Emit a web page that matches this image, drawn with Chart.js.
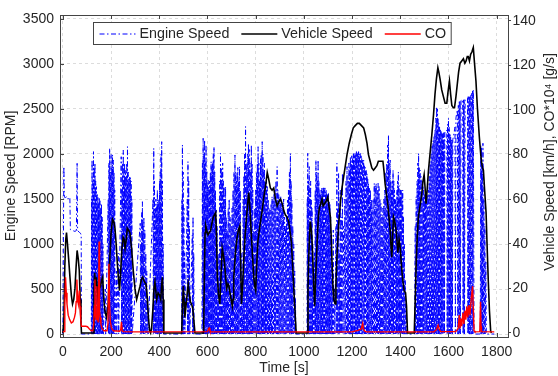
<!DOCTYPE html>
<html>
<head>
<meta charset="utf-8">
<script src="https://cdn.jsdelivr.net/npm/chart.js"></script>
<style>
  html, body { margin: 0; padding: 0; background: #fff; }
  #wrap { width: 558px; height: 376px; }
</style>
</head>
<body>
<div id="wrap"><canvas id="emission_chart"></canvas></div>
<script>
// tick values of the three axes
var timeTicks = [0, 200, 400, 600, 800, 1000, 1200, 1400, 1600, 1800];
var rpmTicks = [0, 500, 1000, 1500, 2000, 2500, 3000, 3500];
var speedTicks = [0, 20, 40, 60, 80, 100, 120, 140];

// [time s, rpm]
var engineSpeed = [
  [0,0],[2,1000],[4,1859],[6,1520],[12,1517],[18,1530],[22,1500],[26,1517],[29,1510],[31,1160],[40,1150],[50,1140],[56,1150],[59,1896],[61,1150],[68,1130],[73,1120],[76,1100],[77,0],[118,0],
  [119,1500],[120.5,0],[121,1933],[122.5,0],[124,1700],[125.5,0],[127,2026],[128.5,0],[130,1850],[131.5,0],[133,1900],[134.5,0],[136,1700],[137.5,0],[139,1637],[140.5,0],[142,1550],[143.5,0],[145,1517],[146.5,0],[148,1450],[149.5,0],[151,1517],[152.5,0],[154,1480],[155.5,0],[157,1400],[158.5,0],[160,1450],[161.5,0],[163,1300],[164.5,0],[166,1000],[167.5,0],
  [176,500],[177.5,0],
  [188,1500],[189.5,0],[191,1900],[192.5,0],[194,2063],[195.5,0],[197,1800],[198.5,0],[200,2000],[201.5,0],[203,1850],[204.5,0],[206,1990],[207.5,0],[209,1933],[210.5,0],[212,1800],[213.5,0],[215,1600],[216.5,0],
  [222,700],[223.5,0],[230,900],[231.5,0],
  [242,1970],[243.5,0],[245,1600],[246.5,0],[248,1900],[249.5,0],[250.5,2044],[252,0],[253,1700],[254.5,0],[256,1900],[257.5,0],[259,1820],[260.5,0],[262,1750],[263.5,0],[265,1900],[266.5,0],[268,2081],[269.5,0],[271,1800],[272.5,0],[274,1700],[275.5,0],[277,1750],[278.5,0],[280,1740],[281.5,0],[283,1700],[284.5,0],[286,1500],[287.5,0],
  [321,1230],[322.5,0],[324,1000],[325.5,0],[327,1350],[328.5,0],[330,1470],[331.5,0],[333,1200],[334.5,0],[336,1300],[337.5,0],[340,1155],[341.5,0],[344,900],[345.5,0],[348,700],[349.5,0],[352,400],[353.5,0],
  [374,1500],[375.5,0],[377,2063],[378.5,0],[380,1700],[381.5,0],[383,1400],[384.5,0],[386,1500],[387.5,0],[389,1415],[390.5,0],[392,1600],[393.5,0],[395,1450],[396.5,0],[398,1500],[399.5,0],[401,1700],[402.5,0],[404,1800],[405.5,0],[407,2000],[408.5,0],[410,2137],[411.5,0],[413,1700],[414.5,0],[416,1000],[417.5,0],
  [493,0],[494,1500],[495,0],[496,2100],[497.5,0],[499,1800],[500.5,0],[502,1400],[503.5,0],[505,900],[506.5,0],
  [516,1500],[517.5,0],[519,1915],[520.5,0],[522,1700],[523.5,0],[525,1200],[526.5,0],
  [537,1100],[538.5,0],[540,1303],[541.5,0],[543,900],[544.5,0],
  [577,0],[579,1900],[580.5,0],[582,2174],[583.5,0],[585,2000],[586.5,0],[588,2156],[589.5,0],[591,1900],[592.5,0],[594,2100],[595.5,0],[597,1800],[598.5,0],[600,1650],[601.5,0],[603,1711],[604.5,0],[606,1600],[607.5,0],[609,1700],[610.5,0],[612,1800],[613.5,0],[615,1915],[616.5,0],[618,1850],[619.5,0],[621,1900],[622.5,0],[624,2000],[625.5,0],[627,2081],[628.5,0],[630,1800],[631.5,0],[633,1600],[634.5,0],[636,1378],[637.5,0],[640,1200],[641.5,0],[644,900],[645.5,0],[648,860],[649.5,0],
  [651,1700],[652.5,0],[654,2007],[655.5,0],[657,1850],[658.5,0],[660,1785],[661.5,0],[663,1900],[664.5,0],[666,1700],[667.5,0],[669,1637],[670.5,0],[672,1500],[673.5,0],[675,1637],[676.5,0],[678,1300],[679.5,0],[682,1155],[683.5,0],[686,1400],[687.5,0],[690,1500],[691.5,0],[694,1300],[695.5,0],[698,1200],[699.5,0],
  [702,1400],[703.5,0],[706,1600],[707.5,0],[710,1800],[711.5,0],[714,1989],[715.5,0],[717,1800],[718.5,0],[720,1700],[721.5,0],[723,1800],[724.5,0],[726,1850],[727.5,0],[729,1700],[730.5,0],[733,1859],[734.5,0],[736,1600],[737.5,0],[740,900],[741.5,0],[744,500],[745.5,0],[748,1500],[749.5,0],
  [751,1760],[752.5,0],[754,2000],[755.5,0],[758,2304],[759.5,0],[761,1900],[762.5,0],[764,1800],[765.5,0],[767,2000],[768.5,0],[770,2118],[771.5,0],[773,2050],[774.5,0],[776,1900],[777.5,0],[779,1800],[780.5,0],[782,2100],[783.5,0],[785,1900],[786.5,0],[788,1600],[789.5,0],[792,1155],[793.5,0],[796,1400],[797.5,0],
  [800,1600],[801.5,0],[804,1800],[805.5,0],[807,1900],[808.5,0],[810,2081],[811.5,0],[813,1900],[814.5,0],[816,1700],[817.5,0],[820,1950],[821.5,0],[823,2000],[824.5,0],[827,2137],[828.5,0],[830,2000],[831.5,0],[833,1800],[834.5,0],[836,1900],[837.5,0],[839,1700],[840.5,0],[842,1600],[843.5,0],[845,1700],[846.5,0],[848,1637],[849.5,0],
  [852,1500],[853.5,0],[856,1400],[857.5,0],[860,1378],[861.5,0],[864,1450],[865.5,0],[868,1526],[869.5,0],[872,1500],[873.5,0],[876,1550],[877.5,0],[880,1600],[881.5,0],[884,1700],[885.5,0],[889,1859],[890.5,0],[892,1600],[893.5,0],[896,1550],[897.5,0],
  [900,1500],[901.5,0],[904,1526],[905.5,0],[908,1450],[909.5,0],[912,1400],[913.5,0],[916,1500],[917.5,0],[920,1300],[921.5,0],[924,1200],[925.5,0],[928,1300],[929.5,0],[932,1489],[933.5,0],[936,1600],[937.5,0],[940,1800],[941.5,0],[944,2007],[945.5,0],[947,1700],[948.5,0],[950,1489],[951.5,0],[954,1200],[955.5,0],[958,1000],[959.5,0],[962,700],[963.5,0],[965,400],[966.5,0],
  [1013,0],[1014,1500],[1015,0],[1016,2007],[1017.5,0],[1019,1700],[1020.5,0],[1022,1860],[1023.5,0],[1025,1600],[1026.5,0],[1028,1700],[1029.5,0],[1031,1489],[1032.5,0],[1034,1400],[1035.5,0],[1037,1000],[1038.5,0],[1040,700],[1041.5,0],[1044,900],[1045.5,0],[1047,1600],[1048.5,0],
  [1050,1933],[1051.5,0],[1053,1800],[1054.5,0],[1056,1700],[1057.5,0],[1059,1933],[1060.5,0],[1062,1700],[1063.5,0],[1066,1600],[1067.5,0],[1069,1550],[1070.5,0],[1072,1600],[1073.5,0],[1075,1620],[1076.5,0],[1078,1600],[1079.5,0],[1081,1637],[1082.5,0],[1084,1600],[1085.5,0],[1087,1637],[1088.5,0],[1090,1580],[1091.5,0],[1093,1600],[1094.5,0],[1096,1550],[1097.5,0],[1099,1500],[1100.5,0],
  [1102,1560],[1103.5,0],[1105,1480],[1106.5,0],[1108,1450],[1109.5,0],[1111,1300],[1112.5,0],[1114,1100],[1115.5,0],[1117,600],[1118.5,0],[1122,1155],[1123.5,0],[1127,500],[1128.5,0],[1133,1200],[1134.5,0],[1137,1896],[1138.5,0],[1140,1400],[1141.5,0],[1144,1785],[1145.5,0],[1147,900],[1148.5,0],
  [1151,1600],[1152.5,0],[1155,1300],[1156.5,0],[1160,1785],[1161.5,0],[1165,1200],[1166.5,0],[1170,1500],[1171.5,0],[1175,1700],[1176.5,0],[1179,1860],[1180.5,0],[1183,1700],[1184.5,0],[1187,1900],[1188.5,0],[1190,1850],[1191.5,0],[1193,1970],[1194.5,0],[1196,1900],[1197.5,0],[1199,1980],[1200.5,0],
  [1202,1950],[1203.5,0],[1206,2007],[1207.5,0],[1209,1980],[1210.5,0],[1212,2010],[1213.5,0],[1215,2000],[1216.5,0],[1218,2026],[1219.5,0],[1221,2010],[1222.5,0],[1224,2020],[1225.5,0],[1227,2026],[1228.5,0],[1230,2000],[1231.5,0],[1234,2007],[1235.5,0],[1237,1980],[1238.5,0],[1240,1950],[1241.5,0],[1244,1933],[1245.5,0],[1248,1933],[1249.5,0],
  [1251,1880],[1252.5,0],[1255,1850],[1256.5,0],[1259,1822],[1260.5,0],[1262,1780],[1263.5,0],[1265,1720],[1266.5,0],[1268,1674],[1269.5,0],[1272,1620],[1273.5,0],[1276,1600],[1277.5,0],[1280,1500],[1281.5,0],[1283,1378],[1284.5,0],[1287,1500],[1288.5,0],[1292,1674],[1293.5,0],[1296,1650],[1297.5,0],
  [1300,1674],[1301.5,0],[1304,1600],[1305.5,0],[1308,1674],[1309.5,0],[1312,1640],[1313.5,0],[1316,1500],[1317.5,0],[1320,1450],[1321.5,0],[1324,1300],[1325.5,0],[1328,1400],[1329.5,0],[1332,1500],[1333.5,0],[1336,1600],[1337.5,0],[1340,1800],[1341.5,0],[1344,1900],[1345.5,0],[1348,2100],[1349.5,0],
  [1351,2211],[1352.5,0],[1354,1900],[1355.5,0],[1358,1933],[1359.5,0],[1361,1700],[1362.5,0],[1364,1600],[1365.5,0],[1367,1700],[1368.5,0],[1370,1822],[1371.5,0],[1373,1700],[1374.5,0],[1376,1600],[1377.5,0],[1380,1500],[1381.5,0],[1383,1450],[1384.5,0],[1386,1600],[1387.5,0],[1389,1700],[1390.5,0],[1392,1800],[1393.5,0],[1395,1650],[1396.5,0],[1398,1550],[1399.5,0],
  [1401,1600],[1402.5,0],[1404,1600],[1405.5,0],[1407,1550],[1408.5,0],[1410,1600],[1411.5,0],[1413,1300],[1414.5,0],[1417,1000],[1418.5,0],[1421,600],[1422.5,0],[1425,300],[1426.5,0],
  [1459,0],[1462,1200],[1463.5,0],[1466,1526],[1467.5,0],[1470,1700],[1471.5,0],[1473,1900],[1474.5,0],[1476,2007],[1477.5,0],[1479,1850],[1480.5,0],[1482,1822],[1483.5,0],[1486,1750],[1487.5,0],[1490,1700],[1491.5,0],[1494,1650],[1495.5,0],[1497,1600],[1498.5,0],
  [1501,1550],[1502.5,0],[1505,1500],[1506.5,0],[1508,1452],[1509.5,0],[1512,1550],[1513.5,0],[1516,1600],[1517.5,0],[1520,1750],[1521.5,0],[1524,1896],[1525.5,0],[1528,2000],[1529.5,0],[1532,2100],[1533.5,0],[1536,2150],[1537.5,0],[1540,2200],[1541.5,0],[1544,2267],[1545.5,0],[1548,2400],[1549.5,0],
  [1551,2526],[1552.5,0],[1554,2500],[1555.5,0],[1557,2400],[1558.5,0],[1560,2340],[1561.5,0],[1563,2300],[1564.5,0],[1566,2280],[1567.5,0],[1569,2250],[1570.5,0],[1572,2240],[1573.5,0],[1575,2230],[1576.5,0],[1579,2230],[1580.5,0],[1582,2240],[1583.5,0],[1585,2230],[1589,2250],
  [1593,2267],[1594.5,0],[1596,2330],[1597.5,0],[1600,2396],[1601.5,0],[1603,2300],[1604.5,0],[1606,2230],[1607.5,0],[1609,2200],[1610.5,0],[1612,2156],[1613.5,0],[1615,2160],[1616.5,0],[1618,2160],[1621,2200],[1624,2250],[1627,2300],[1628.5,0],[1631,2400],[1634,2450],
  [1637,2490],[1638.5,0],[1641,2540],[1642.5,0],[1645,2581],[1646.5,0],[1648,2590],[1649.5,0],[1652,2595],[1656,2600],[1659,2600],[1660.5,0],[1662,2600],[1663.5,0],[1665,2605],[1666.5,0],[1669,2600],[1672,2610],[1676,2615],[1679,2620],[1680.5,0],
  [1682,2637],[1683.5,0],[1686,2640],[1687.5,0],[1689,2650],[1690.5,0],[1693,2660],[1694.5,0],[1697,2674],[1698.5,0],[1700,2700],[1701.5,0],[1703,2711],[1706,0],
  [1732,0],[1734,2100],[1735.5,0],[1737,2080],[1738.5,0],[1740,1900],[1741.5,0],[1743,2119],[1744.5,0],[1747,1500],[1748.5,0],[1751,1200],[1752.5,0],[1755,800],[1757,0],[1790,0]
];

// [time s, km/h]
var vehicleSpeed = [
  [0,0],[4,5],[8,30],[12,42],[15,45],[19,40],[24,33],[30,24],[35,17],[40,13],[45,15],[50,20],[55,30],[59,37],[64,33],[68,28],[72,15],[75,5],[77,0],
  [125,0],[129,20],[132,27],[135,21],[139,25],[145,16],[150,19],[156,21],[162,24],[165,25],[170,15],[174,10],[181,7],[188,13],[195,34],[200,45],
  [206,51],[211,50],[216,47],[221,40],[226,31],[231,24],[235,19],[240,28],[245,38],[250,43],[254,42],[258,38],[263,42],[267,47],[273,46],[278,45],
  [285,38],[292,28],[299,20],[306,15],[313,18],[320,21],[326,24],[331,25],[338,23],[345,22],[350,16],[355,7],[360,1],[364,0],[368,2],[373,10],
  [378,20],[382,23],[389,15],[395,18],[401,17],[406,15],[410,22],[413,25],[416,15],[419,0],
  [493,0],[496,12],[500,21],[503,14],[506,7],[511,12],[516,18],[520,22],[524,18],[529,14],[534,13],[539,11],[544,5],[548,0],
  [584,0],[587,25],[590,45],[593,48],[597,46],[602,44],[607,45],[613,46],[618,49],[624,52],[629,53],[634,54],[637,45],[641,25],[646,17],[651,13],[656,25],
  [661,38],[666,35],[671,31],[676,24],[680,20],[685,22],[689,21],[695,17],[703,12],[706,15],[709,25],[716,36],[723,43],[728,46],[734,48],[738,30],
  [741,13],[746,22],[751,34],[757,45],[762,52],[767,58],[771,63],[776,56],[781,46],[786,36],[792,25],[796,21],[800,19],[804,30],[809,41],[815,46],
  [820,50],[827,55],[834,61],[841,66],[848,72],[854,69],[861,65],[868,64],[875,65],[882,60],[889,57],[896,59],[903,60],[910,58],[916,55],[923,53],
  [930,52],[937,50],[942,46],[948,41],[953,31],[958,20],[963,10],[968,0],
  [1014,0],[1017,20],[1020,34],[1024,45],[1027,50],[1031,46],[1034,41],[1038,30],[1042,18],[1045,12],[1050,28],[1055,41],[1060,52],[1064,56],
  [1070,58],[1075,60],[1080,57],[1086,58],[1092,59],[1099,61],[1104,57],[1110,52],[1114,42],[1117,31],[1121,20],[1124,15],[1130,13],[1133,22],
  [1137,34],[1144,48],[1151,58],[1158,65],[1165,70],[1172,75],[1179,80],[1188,85],[1197,89],[1205,92],[1213,93],[1222,94],[1230,94],[1239,93],
  [1248,92],[1255,89],[1262,85],[1268,80],[1275,77],[1282,74],[1289,73],[1296,74],[1303,75],[1309,77],[1314,77],[1321,77],[1328,77],[1333,72],
  [1337,67],[1343,62],[1348,58],[1353,52],[1358,46],[1362,38],[1365,34],[1369,45],[1372,52],[1377,50],[1383,46],[1390,36],[1395,42],[1400,38],
  [1405,30],[1410,24],[1416,19],[1422,18],[1426,12],[1430,0],
  [1458,0],[1462,15],[1466,31],[1470,42],[1475,52],[1482,57],[1489,62],[1494,68],[1499,71],[1503,65],[1507,58],[1512,65],[1517,73],[1524,81],
  [1531,89],[1538,98],[1544,107],[1550,114],[1556,119],[1560,117],[1565,114],[1572,109],[1579,106],[1586,103],[1593,103],[1598,108],[1604,113],
  [1609,107],[1614,102],[1620,101],[1625,101],[1631,106],[1637,112],[1642,117],[1648,121],[1655,122],[1662,123],[1668,121],[1673,122],[1678,124],
  [1682,124],[1687,122],[1692,125],[1697,126],[1703,128],[1708,121],[1714,113],[1720,101],[1728,88],[1734,80],[1738,76],[1742,74],[1745,73],
  [1750,64],[1756,54],[1760,40],[1765,24],[1770,10],[1775,1],[1778,0]
];

// [time s, CO*10^4 g/s]
var coEmission = [
  [0,0.5],[5,0.6],[8,12],[11,25],[14,18],[17,13],[22,8],[28,6],[35,4.5],[42,5],[48,7],[52,9],[55,14],[58,24],[61,15],[64,13],[68,19],[71,12],
  [74,6],[77,3],[85,3],[95,3],[102,2.8],[110,1.8],[118,1],[124,1],[128,4],[131,12],[133,24],[135,8],[138,6],[141,21],[143,7],[146,5],[148,12],
  [150,41],[152,10],[155,7],[158,4],[162,2],[170,1],[183,1],[187,4],[191,31],[194,12],[197,5],[202,2],[210,1],[236,0.8],[240,1.5],[243,5],[246,1],
  [252,0.6],[300,0.5],[600,0.6],[604,1.8],[607,2.2],[610,1],[615,0.5],[1200,0.5],[1225,1.2],[1238,1.8],[1244,4.3],[1247,1.8],[1252,0.8],[1260,0.5],
  [1540,0.5],[1550,1.5],[1557,3.5],[1562,1.5],[1568,0.6],[1630,0.6],[1640,2],[1645,8],[1648,2],[1652,6.5],[1655,3],[1660,9],[1664,4],[1668,10],
  [1672,6],[1676,12],[1680,7],[1685,12.5],[1689,8],[1695,16],[1700,21],[1704,8],[1706,1],[1710,0.5],[1730,0.6],[1733,14],[1735,3],[1737,0.6],[1790,0.5]
];

function toXY(pairs) {
  return pairs.map(function (p) { return {x: p[0], y: p[1]}; });
}
function fixTicks(values) {
  return function (scale) { scale.ticks = values.map(function (v) { return {value: v}; }); };
}
function plainLabel(v) { return String(v); }

var ink = '#262626';
var axisColor = '#444444';
var gridColor = '#dcdcdc';

Chart.defaults.font.family = "'Liberation Sans', Arial, 'DejaVu Sans', sans-serif";
Chart.defaults.font.size = 14;
Chart.defaults.color = ink;

// box on top, little inner ticks, boxed legend and the right axis title
var matlabFrame = {
  id: 'matlabFrame',
  afterDatasetsDraw: function (chart) {
    var ctx = chart.ctx, a = chart.chartArea, s = chart.scales;
    ctx.save();
    ctx.strokeStyle = axisColor;
    ctx.lineWidth = 1;
    ctx.setLineDash([]);
    ctx.beginPath();
    ctx.moveTo(a.left, a.top + 0.5);
    ctx.lineTo(a.right, a.top + 0.5);
    s.x.ticks.forEach(function (t) {
      var px = Math.round(s.x.getPixelForValue(t.value)) + 0.5;
      ctx.moveTo(px, a.top); ctx.lineTo(px, a.top + 4);
      ctx.moveTo(px, a.bottom); ctx.lineTo(px, a.bottom - 4);
    });
    s.yL.ticks.forEach(function (t) {
      var py = Math.round(s.yL.getPixelForValue(t.value)) + 0.5;
      ctx.moveTo(a.left, py); ctx.lineTo(a.left + 4, py);
    });
    ctx.stroke();

    // legend
    var items = chart.data.datasets;
    ctx.font = '14.3px ' + Chart.defaults.font.family;
    var sample = 36, widths = items.map(function (d) { return ctx.measureText(d.label).width; });
    var boxW = 6 + 5;
    widths.forEach(function (w, i) { boxW += sample + 4 + w + (i < widths.length - 1 ? 12 : 0); });
    var bx = Math.round(a.left + 33) + 0.5, by = Math.round(a.top + 7) + 0.5, bh = 22;
    ctx.fillStyle = '#ffffff';
    ctx.fillRect(bx, by, boxW, bh);
    ctx.strokeStyle = axisColor;
    ctx.strokeRect(bx, by, boxW, bh);
    var x = bx + 6, cy = by + bh / 2;
    items.forEach(function (d, i) {
      ctx.save();
      ctx.strokeStyle = d.borderColor;
      ctx.lineWidth = Math.max(d.borderWidth, 1.2);
      ctx.setLineDash(d.borderDash || []);
      ctx.beginPath();
      ctx.moveTo(x, Math.round(cy)); ctx.lineTo(x + sample, Math.round(cy));
      ctx.stroke();
      ctx.restore();
      ctx.fillStyle = ink;
      ctx.textBaseline = 'middle';
      ctx.textAlign = 'left';
      ctx.fillText(d.label, x + sample + 4, cy + 0.5);
      x += sample + 4 + widths[i] + 12;
    });
    ctx.restore();
  },
  afterDraw: function (chart) {
    var ctx = chart.ctx, a = chart.chartArea;
    ctx.save();
    ctx.font = '14px ' + Chart.defaults.font.family;
    ctx.fillStyle = ink;
    ctx.textAlign = 'center';
    ctx.textBaseline = 'middle';
    ctx.translate(chart.width - 8, a.top + (a.bottom - a.top) / 2 - 14);
    ctx.rotate(-Math.PI / 2);
    ctx.fillText('Vehicle Speed [km/h], CO*10\u2074 [g/s]', 0, 0);
    ctx.restore();
  }
};

new Chart('emission_chart', {
  type: 'line',
  data: {
    datasets: [{
      label: 'Engine Speed',
      data: toXY(engineSpeed),
      yAxisID: 'yL',
      borderColor: '#0000ff',
      borderWidth: 1,
      borderDash: [5, 2.5, 1.5, 2.5],
      pointRadius: 0,
      order: 3
    }, {
      label: 'Vehicle Speed',
      data: toXY(vehicleSpeed),
      yAxisID: 'yR',
      borderColor: '#000000',
      borderWidth: 1.6,
      pointRadius: 0,
      order: 2
    }, {
      label: 'CO',
      data: toXY(coEmission),
      yAxisID: 'yR',
      borderColor: '#ff0000',
      borderWidth: 1.4,
      pointRadius: 0,
      order: 1
    }]
  },
  options: {
    responsive: true,
    maintainAspectRatio: false,
    devicePixelRatio: 1,
    animation: false,
    events: [],
    layout: {padding: {top: 15, left: 0, right: 0, bottom: 0}},
    plugins: {legend: {display: false}, tooltip: {enabled: false}},
    scales: {
      x: {
        type: 'linear',
        min: -12,
        max: 1847,
        afterBuildTicks: fixTicks(timeTicks),
        afterFit: function (s) { s.height = 39; },
        ticks: {padding: 7, maxRotation: 0, autoSkip: false, callback: plainLabel},
        grid: {color: gridColor, drawTicks: false},
        border: {color: axisColor, dash: [3, 3]},
        title: {display: true, text: 'Time [s]', padding: {top: 0, bottom: 0}, font: {size: 14, lineHeight: 1.1}}
      },
      yL: {
        type: 'linear',
        position: 'left',
        min: -33,
        max: 3544,
        afterBuildTicks: fixTicks(rpmTicks),
        afterFit: function (s) { s.width = 60; },
        ticks: {padding: 6, callback: plainLabel},
        grid: {color: gridColor, drawTicks: false},
        border: {color: axisColor, dash: [3, 3]},
        title: {display: true, text: 'Engine Speed [RPM]', padding: {top: 3, bottom: 0}}
      },
      yR: {
        type: 'linear',
        position: 'right',
        min: -1.8,
        max: 142.6,
        afterBuildTicks: fixTicks(speedTicks),
        afterFit: function (s) { s.width = 50; },
        ticks: {padding: 1.5, callback: plainLabel},
        grid: {drawOnChartArea: false, drawTicks: true, tickLength: 3, tickColor: axisColor},
        border: {color: axisColor}
      }
    }
  },
  plugins: [matlabFrame]
});
</script>
</body>
</html>
